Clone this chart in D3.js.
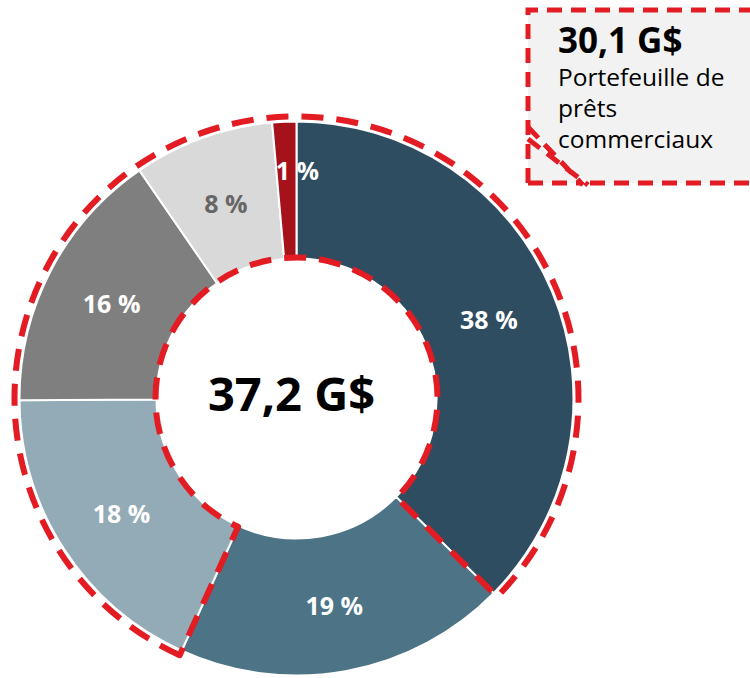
<!DOCTYPE html>
<html>
<head>
<meta charset="utf-8">
<script src="https://cdn.jsdelivr.net/npm/d3@7"></script>
<style>
body { margin: 0; background: #fff; }
text { font-family: "Open Sans", "Noto Sans", sans-serif; }
</style>
</head>
<body>
<div id="mainvis"></div>
<script>
// slice data, clockwise from 12 o'clock (shares, labels as printed)
let categories = ["A", "B", "C", "D", "E", "F"];
let shares = [37.4, 19.4, 18.1, 15.5, 8.2, 1.4];
let labels = ["38 %", "19 %", "18 %", "16 %", "8 %", "1 %"];
let sliceColors = ["#2e4d61", "#4d7386", "#93abb7", "#7f7f7f", "#d9d9d9", "#a6121a"];
let labelColors = ["#fff", "#fff", "#fff", "#fff", "#666", "#fff"];
let highlighted = ["C", "D", "E", "F", "A"]; // slices inside the dashed outline
let totalLabel = "37,2 G$";
let calloutValue = "30,1 G$";
let calloutLines = ["Portefeuille de", "prêts", "commerciaux"];

let width = 750, height = 678;
let cx = 296.5, cy = 398.5;
let outerR = 277, innerR = 140;

let svg = d3.select("#mainvis")
    .append("svg")
    .attr("width", width)
    .attr("height", height);

let data = categories.map((c, i) => ({cat: c, value: shares[i], i: i}));

let pie = d3.pie()
    .sort(null)
    .value(d => d.value);

let arcs = pie(data);

let arc = d3.arc()
    .innerRadius(innerR)
    .outerRadius(outerR);

let g = svg.append("g")
    .attr("transform", "translate(" + cx + "," + cy + ")");

g.selectAll(".slice")
    .data(arcs)
    .enter()
    .append("path")
    .attr("class", "slice")
    .attr("d", arc)
    .style("fill", d => sliceColors[d.data.i])
    .style("stroke", "#fff")
    .style("stroke-width", 2);

// labels, small slices pushed outward
g.selectAll(".lbl")
    .data(arcs)
    .enter()
    .append("text")
    .attr("class", "lbl")
    .attr("transform", d => {
        let c = arc.centroid(d);
        if (d.data.value < 3) {
            let a = (d.startAngle + d.endAngle) / 2;
            c = [Math.sin(a) * 230 + 11, -Math.cos(a) * 230];
        }
        return "translate(" + c[0] + "," + (c[1] + 2) + ")";
    })
    .attr("text-anchor", "middle")
    .attr("dy", "0.36em")
    .style("font-size", "25px")
    .style("font-weight", "bold")
    .style("fill", d => labelColors[d.data.i])
    .text(d => labels[d.data.i]);

// dashed outline around highlighted part
let hl = arcs.filter(d => highlighted.includes(d.data.cat));
let firstIdx = categories.indexOf(highlighted[0]);
let startA = arcs[firstIdx].startAngle;
let spanA = d3.sum(hl, d => d.endAngle - d.startAngle);

let outlineArc = d3.arc()
    .innerRadius(innerR + 1)
    .outerRadius(outerR + 5)
    .startAngle(startA)
    .endAngle(startA + spanA);

g.append("path")
    .attr("d", outlineArc())
    .style("fill", "none")
    .style("stroke", "#e31b23")
    .style("stroke-width", 6)
    .style("stroke-dasharray", "22,13")
    .style("stroke-linejoin", "round");

// centre label
g.append("text")
    .attr("x", -5)
    .attr("y", 12)
    .attr("text-anchor", "middle")
    .style("font-size", "47px")
    .style("font-weight", "bold")
    .style("fill", "#000")
    .text(totalLabel);

// callout box
let box = svg.append("g");
let bx = 528, by = 10, bw = 240, bh = 173;

box.append("rect")
    .attr("x", bx)
    .attr("y", by)
    .attr("width", bw)
    .attr("height", bh)
    .style("fill", "#f2f2f2");

box.append("path")
    .attr("d", "M" + bx + "," + (by + 117) + "L" + (bx + 52) + "," + (by + bh) +
        "L" + (bx + 62) + "," + (by + bh) + "L" + bx + "," + (by + 129) + "Z")
    .style("fill", "#fff");

let dashStyle = s => s.style("fill", "none")
    .style("stroke", "#e31b23")
    .style("stroke-width", 5)
    .style("stroke-dasharray", "15,9");

box.append("path")
    .attr("d", "M" + (bx + 62) + "," + (by + bh) + "L" + (bx + bw) + "," + (by + bh) +
        "M" + bx + "," + (by + bh) + "L" + (bx + 52) + "," + (by + bh) +
        "M" + bx + "," + (by + bh) + "L" + bx + "," + by + "L" + (bx + bw) + "," + by)
    .call(dashStyle);

box.append("path")
    .attr("d", "M" + bx + "," + (by + 117) + "L" + (bx + 55) + "," + (by + bh + 2) +
        "M" + bx + "," + (by + 129) + "L" + (bx + 60) + "," + (by + bh + 2))
    .call(dashStyle);

box.append("text")
    .attr("x", 558)
    .attr("y", 53)
    .style("font-size", "35px")
    .style("font-weight", "bold")
    .style("fill", "#000")
    .text(calloutValue);

box.selectAll(".cl")
    .data(calloutLines)
    .enter()
    .append("text")
    .attr("class", "cl")
    .attr("x", 558)
    .attr("y", (d, i) => 86 + i * 31)
    .style("font-size", "24.5px")
    .style("fill", "#000")
    .text(d => d);
</script>
</body>
</html>
